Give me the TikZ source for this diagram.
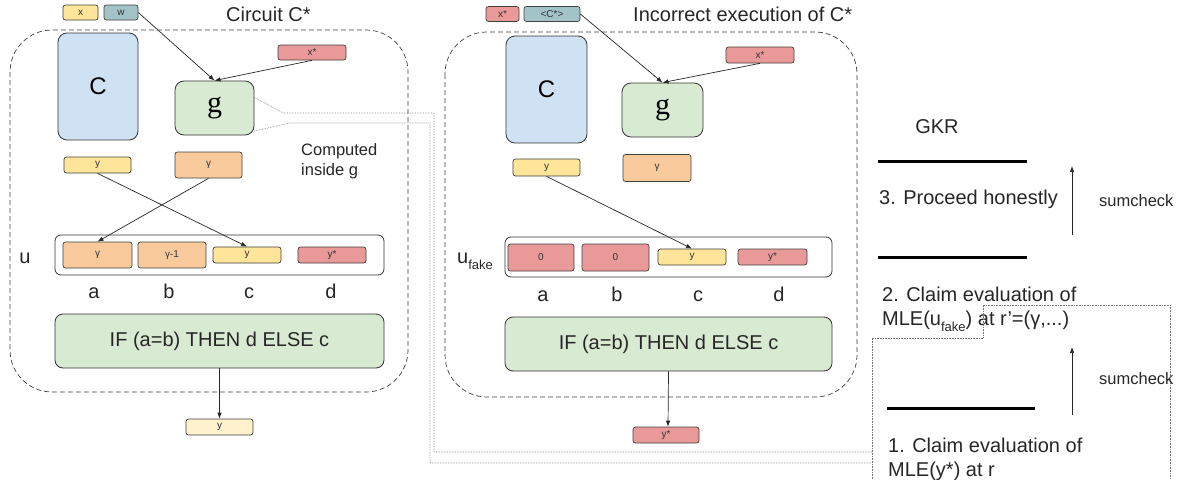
\documentclass[tikz,border=0pt]{standalone}
\usepackage{fontspec}
\setmainfont{Liberation Sans}
\newfontfamily\gfont{Liberation Serif}
\usetikzlibrary{arrows.meta}

\definecolor{cyel}{HTML}{FFE599}
\definecolor{clyel}{HTML}{FFF2CC}
\definecolor{cteal}{HTML}{A2C4C9}
\definecolor{cred}{HTML}{EA9999}
\definecolor{corg}{HTML}{F9CB9C}
\definecolor{cblue}{HTML}{CFE2F3}
\definecolor{cgrn}{HTML}{D9EAD3}

\newcommand{\subfake}{\raisebox{-6pt}{\fontsize{13}{13}\selectfont fake}}

\tikzset{
  cell/.style={draw=black!75, fill=white, rounded corners=2.5pt, inner sep=0pt,
    minimum width=67pt, minimum height=16pt, line width=0.7pt,
    font=\fontsize{10}{12}\selectfont, text=black!80},
  blk/.style={draw=black!80, rounded corners=9pt, inner sep=0pt, line width=0.8pt},
  frame/.style={draw=black!75, dash pattern=on 5pt off 3pt, rounded corners=42pt, line width=0.7pt},
  link/.style={draw=black!55, densely dotted, line width=0.6pt},
  arr/.style={draw=black!85, line width=0.7pt, -{Latex[length=6pt,width=4.5pt]}},
  lbl/.style={inner sep=0pt, text=black!85, font=\fontsize{20}{24}\selectfont},
  small/.style={inner sep=0pt, text=black!85, font=\fontsize{16.5}{20}\selectfont},
  layer/.style={line width=3pt, black},
}

\begin{document}
\begin{tikzpicture}[x=1pt, y=-1pt]
  \useasboundingbox (0,0) rectangle (1182,479);

  % circuit C*
  \node[cell, fill=cyel, minimum width=35pt, minimum height=15pt] (xL) at (80.5,12.5) {x};
  \node[cell, fill=cteal, minimum width=34pt, minimum height=15pt] (wL) at (121,12.5) {w};
  \node[lbl, anchor=west] (tL) at (226,14) {Circuit C*};
  \draw[frame] (10,30) rectangle (408,392);
  \node[blk, fill=cblue, minimum width=80pt, minimum height=107pt, font=\fontsize{24}{28}\selectfont] (cL) at (98,86.5) {C};
  \node[blk, fill=cgrn, minimum width=79pt, minimum height=54pt, font=\gfont\fontsize{30}{30}\selectfont] (gL) at (214.5,108) {g};
  \node[cell, fill=cred, minimum width=68pt, minimum height=15pt] (xsL) at (312,52.5) {x*};
  \node[cell, fill=cyel] (yL) at (97.5,165) {y};
  \node[cell, fill=corg, minimum height=26pt] (gmL) at (208.5,165) {γ};
  \node[small, anchor=west, align=left] (cmp) at (301,161) {Computed\\inside g};
  \node[draw=black!80, rounded corners=6pt, line width=0.8pt, minimum width=329pt, minimum height=40pt] (uL) at (219.5,255) {};
  \node[lbl, anchor=base] (uLbl) at (25,263) {u};
  \node[cell, fill=corg, minimum width=69pt, minimum height=26pt] (uLa) at (97.5,255) {γ};
  \node[cell, fill=corg, minimum width=68pt, minimum height=26pt] (uLb) at (172,255) {γ-1};
  \node[cell, fill=cyel, minimum width=68pt] (uLc) at (247,255) {y};
  \node[cell, fill=cred, minimum width=68pt] (uLd) at (332,255) {y*};
  \foreach \n/\x in {a/94,b/169,c/249,d/331}
    \node[lbl, anchor=base] (lL\n) at (\x,298) {\n};
  \node[blk, fill=cgrn, rounded corners=8pt, minimum width=329pt, minimum height=54pt, lbl] (ifL) at (219.5,341) {IF (a=b) THEN d ELSE c};
  \node[cell, fill=clyel] (oL) at (219.5,427) {y};
  \draw[arr] (wL.east) -- (gL.north);
  \draw[arr] (xsL.south) -- (gL.north);
  \draw[arr] (yL.south) -- (uLc.north);
  \draw[arr] (gmL.south) -- (uLa.north);
  \draw[arr] (ifL.south) -- (oL.north);

  % incorrect execution
  \node[cell, fill=cred, minimum width=33pt, minimum height=15pt] (xR) at (502.5,14) {x*};
  \node[cell, fill=cteal, minimum width=56pt, minimum height=15pt] (csR) at (552,14) {<C*>};
  \node[lbl, anchor=west] (tR) at (633,14) {Incorrect execution of C*};
  \draw[frame] (445,32) rectangle (857,397);
  \node[blk, fill=cblue, minimum width=81pt, minimum height=107pt, font=\fontsize{24}{28}\selectfont] (cR) at (546.5,89.5) {C};
  \node[blk, fill=cgrn, minimum width=81pt, minimum height=54pt, font=\gfont\fontsize{30}{30}\selectfont] (gR) at (662.5,110) {g};
  \node[cell, fill=cred, minimum width=68pt] (xsR) at (760,55) {x*};
  \node[cell, fill=cyel, minimum height=17pt] (yR) at (546.5,167.5) {y};
  \node[cell, fill=corg, minimum width=68pt, minimum height=27pt] (gmR) at (657,168) {γ};
  \node[draw=black!80, rounded corners=6pt, line width=0.8pt, minimum width=327pt, minimum height=40pt] (uR) at (668.5,257) {};
  \node[lbl, anchor=base west] (uRLbl) at (457,263) {u\subfake};
  \node[cell, fill=cred, minimum width=66pt, minimum height=27pt] (uRa) at (541,257.5) {0};
  \node[cell, fill=cred, minimum width=67pt, minimum height=27pt] (uRb) at (615.5,257.5) {0};
  \node[cell, fill=cyel, minimum width=68pt] (uRc) at (692,257) {y};
  \node[cell, fill=cred, minimum width=69pt] (uRd) at (772.5,257) {y*};
  \foreach \n/\x in {a/543,b/617,c/698,d/779}
    \node[lbl, anchor=base] (lR\n) at (\x,301) {\n};
  \node[blk, fill=cgrn, rounded corners=8pt, minimum width=327pt, minimum height=54pt, lbl] (ifR) at (668.5,344) {IF (a=b) THEN d ELSE c};
  \node[cell, fill=cred, minimum width=66pt] (oR) at (666,435) {y*};
  \draw[arr] (csR.east) -- (gR.north);
  \draw[arr] (xsR.south) -- (gR.north);
  \draw[arr] (yR.south) -- (uRc.north);
  \draw[arr] (ifR.south) -- ([xshift=2pt]oR.north);

  % GKR
  \node[lbl] (gkr) at (937,127) {GKR};
  \draw[layer] (878,161) -- (1027,161);
  \draw[layer] (878,257) -- (1027,257);
  \draw[layer] (887,408) -- (1035,408);
  \node[lbl, anchor=west] (st3) at (879,199) {3. Proceed honestly};
  \node[lbl, anchor=west, align=left] (st2) at (882,309) {2. Claim evaluation of\\MLE(u\subfake) at r’=(γ,...)};
  \node[lbl, anchor=west, align=left] (st1) at (888,459) {1. Claim evaluation of\\MLE(y*) at r};
  \coordinate (s1a) at (1072,235);
  \coordinate (s1b) at (1072,166);
  \coordinate (s2a) at (1072,415);
  \coordinate (s2b) at (1072,347);
  \draw[arr] (s1a) -- (s1b);
  \draw[arr] (s2a) -- (s2b);
  \node[small, anchor=west] (sc1) at (1099,201) {sumcheck};
  \node[small, anchor=west] (sc2) at (1099,379) {sumcheck};

  % callout from g
  \draw[link] (gL.15) -- (283,113) -- (434,113) -- (434,452) -- (872,452);
  \draw[link] (gL.-30) -- (290,123) -- (430,123) -- (430,463) -- (872,463);
  \draw[link] (872,479) -- (872,338) -- (983,338) -- (983,305) -- (1170,305) -- (1170,479);
\end{tikzpicture}
\end{document}
